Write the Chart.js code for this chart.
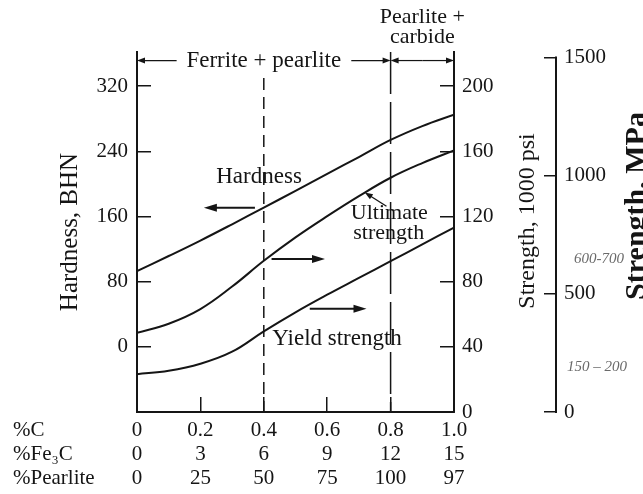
<!DOCTYPE html>
<html>
<head>
<meta charset="utf-8">
<script src="https://cdn.jsdelivr.net/npm/chart.js@4.4.1/dist/chart.umd.min.js"></script>
<style>
  html, body { margin: 0; padding: 0; background: #fff; }
  #wrap { width: 643px; height: 494px; position: relative; }
</style>
</head>
<body>
<div id="wrap"><canvas id="chart"></canvas></div>
<script>
// carbon content along the bottom, every 0.1 %C
var carbon = [0, 0.1, 0.2, 0.3, 0.4, 0.5, 0.6, 0.7, 0.8, 0.9, 1.0];
var hardness = [93, 111.5, 130.5, 150.5, 171, 191.5, 212.5, 233, 254, 271, 285];            // BHN
var ultimate = [48.6, 54.2, 63.2, 77.0, 92.8, 107.2, 120.2, 132.5, 143.8, 152.8, 160.6];   // 1000 psi
var yieldStr = [23.2, 25.3, 29.6, 37.0, 49.5, 61.2, 72.0, 82.3, 92.6, 102.9, 113.2];      // 1000 psi

// the three rows of tick labels under the x axis
var carbonTicks = [0, 0.2, 0.4, 0.6, 0.8, 1.0];
var carbonLabels = ['0', '0.2', '0.4', '0.6', '0.8', '1.0'];
var fe3cLabels = ['0', '3', '6', '9', '12', '15'];
var pearliteLabels = ['0', '25', '50', '75', '100', '97'];
var rowNames = ['%C', '%Fe\u2083C', '%Pearlite'];

var bhnTicks = [0, 80, 160, 240, 320];
var psiTicks = [0, 40, 80, 120, 160, 200];
var mpaTicks = [0, 500, 1000, 1500];

var ink = '#151515';
var serif = "'Liberation Serif', 'Times New Roman', serif";

function pts(ys) {
  return carbon.map(function(c, i) { return { x: c, y: ys[i] }; });
}

function setTicks(list) {
  return function(scale) {
    scale.ticks = list.map(function(v) { return { value: v }; });
  };
}

function plain(v) { return String(v); }

function arrow(ctx, x1, y1, x2, y2, len, half) {
  var a = Math.atan2(y2 - y1, x2 - x1);
  ctx.beginPath();
  ctx.moveTo(x1, y1);
  ctx.lineTo(x2 - Math.cos(a) * len * 0.7, y2 - Math.sin(a) * len * 0.7);
  ctx.stroke();
  ctx.beginPath();
  ctx.moveTo(x2, y2);
  ctx.lineTo(x2 - len * Math.cos(a) + half * Math.sin(a), y2 - len * Math.sin(a) - half * Math.cos(a));
  ctx.lineTo(x2 - len * Math.cos(a) - half * Math.sin(a), y2 - len * Math.sin(a) + half * Math.cos(a));
  ctx.closePath();
  ctx.fill();
}

// phase lines, arrows, labels and the right-hand titles
var notes = {
  id: 'notes',
  afterDraw: function(chart) {
    var ctx = chart.ctx;
    var xs = chart.scales.x, ys = chart.scales.y, ms = chart.scales.mpa;
    var px = function(v) { return xs.getPixelForValue(v); };
    var py = function(v) { return ys.getPixelForValue(v); };
    ctx.save();
    ctx.strokeStyle = ink;
    ctx.fillStyle = ink;

    // dashed boundaries at 0.4 and 0.8 %C
    ctx.lineWidth = 1.5;
    ctx.setLineDash([12, 7]);
    ctx.beginPath();
    ctx.moveTo(px(0.4), py(330));
    ctx.lineTo(px(0.4), py(-80));
    ctx.stroke();
    ctx.setLineDash([42, 8]);
    ctx.beginPath();
    ctx.moveTo(px(0.8), py(ys.max));
    ctx.lineTo(px(0.8), py(-80));
    ctx.stroke();
    ctx.setLineDash([]);

    // phase ranges along the top
    ctx.lineWidth = 1.2;
    var ty = py(351.5);
    arrow(ctx, px(0.125), ty, px(0), ty, 8, 3);
    arrow(ctx, px(0.676), ty, px(0.8), ty, 8, 3);
    arrow(ctx, px(0.9), ty, px(0.8), ty, 8, 3);
    arrow(ctx, px(0.9), ty, px(1.0), ty, 8, 3);
    ctx.textAlign = 'center';
    ctx.textBaseline = 'middle';
    ctx.font = '23px ' + serif;
    ctx.fillText('Ferrite + pearlite', px(0.4), ty);
    ctx.font = '22px ' + serif;
    ctx.fillText('Pearlite +', px(0.9), py(405));
    ctx.fillText('carbide', px(0.9), py(380));

    // curve labels and direction arrows
    ctx.font = '23px ' + serif;
    ctx.fillText('Hardness', px(0.385), py(209));
    ctx.fillText('Yield strength', px(0.631), py(10));
    ctx.font = '22px ' + serif;
    ctx.fillText('Ultimate', px(0.796), py(163.5));
    ctx.fillText('strength', px(0.794), py(140));
    ctx.lineWidth = 2;
    arrow(ctx, px(0.372), py(170.7), px(0.211), py(170.7), 13, 4);
    arrow(ctx, px(0.4245), py(108), px(0.593), py(108), 13, 4);
    arrow(ctx, px(0.545), py(46.7), px(0.724), py(46.7), 13, 4);
    ctx.lineWidth = 1.3;
    arrow(ctx, px(0.787), py(172.6), px(0.7186), py(189.6), 8, 3);

    // row names for the x labels
    ctx.textAlign = 'left';
    ctx.font = '21px ' + serif;
    rowNames.forEach(function(name, i) {
      ctx.fillText(name, 13, xs.top + 18 + i * 24);
    });

    // the MPa axis line, only as far as its labelled range
    ctx.lineWidth = 2;
    ctx.beginPath();
    ctx.moveTo(ms.left, ms.getPixelForValue(0) + 1);
    ctx.lineTo(ms.left, ms.getPixelForValue(1500) - 1);
    ctx.stroke();

    // right hand titles read bottom to top
    ctx.textAlign = 'center';
    ctx.textBaseline = 'alphabetic';
    ctx.save();
    ctx.translate(534, 221);
    ctx.rotate(-Math.PI / 2);
    ctx.font = '24px ' + serif;
    ctx.fillText('Strength, 1000 psi', 0, 0);
    ctx.restore();
    ctx.save();
    ctx.translate(645, 206);
    ctx.rotate(-Math.PI / 2);
    ctx.font = 'bold 30px ' + serif;
    ctx.fillText('Strength, MPa', 0, 0);
    ctx.restore();

    // pencil notes on the MPa scale
    ctx.fillStyle = '#6a6a6a';
    ctx.textAlign = 'left';
    ctx.textBaseline = 'middle';
    ctx.font = 'italic 15px ' + serif;
    ctx.fillText('600-700', ms.left + 18, ms.getPixelForValue(648));
    ctx.fillText('150 \u2013 200', ms.left + 11, ms.getPixelForValue(192));
    ctx.restore();
  }
};

var tickFont = { family: serif, size: 21 };
var psiMax = 221;

new Chart(document.getElementById('chart'), {
  type: 'line',
  data: {
    datasets: [
      { label: 'Hardness', data: pts(hardness), yAxisID: 'y' },
      { label: 'Ultimate strength', data: pts(ultimate), yAxisID: 'y1' },
      { label: 'Yield strength', data: pts(yieldStr), yAxisID: 'y1' }
    ].map(function(d) {
      d.borderColor = ink;
      d.borderWidth = 2;
      d.pointRadius = 0;
      d.fill = false;
      d.tension = 0.4;
      return d;
    })
  },
  options: {
    responsive: true,
    maintainAspectRatio: false,
    animation: false,
    devicePixelRatio: 1,
    layout: { padding: { top: 52, left: 0, right: 0, bottom: 0 } },
    plugins: { legend: { display: false }, tooltip: { enabled: false } },
    scales: {
      x: {
        type: 'linear', position: 'bottom', min: 0, max: 1,
        afterBuildTicks: setTicks(carbonTicks),
        afterFit: function(s) { s.height = 82; },
        grid: { drawOnChartArea: false, tickLength: -15, color: ink, lineWidth: 1.5 },
        border: { color: ink, width: 2 },
        ticks: {
          padding: 21, color: ink,
          font: { family: serif, size: 21, lineHeight: 24 / 21 },
          maxRotation: 0, autoSkip: false,
          callback: function(v, i) { return [carbonLabels[i], fe3cLabels[i], pearliteLabels[i]]; }
        }
      },
      y: {
        position: 'left', min: -80, max: 2 * psiMax - 80,
        afterBuildTicks: setTicks(bhnTicks),
        afterFit: function(s) { s.width = 137; },
        grid: { drawOnChartArea: false, tickLength: -14, color: ink, lineWidth: 1.5 },
        border: { color: ink, width: 2 },
        ticks: { padding: 23, color: ink, font: tickFont, callback: plain },
        title: {
          display: true, text: 'Hardness, BHN', color: ink,
          font: { family: serif, size: 25 }, padding: { top: 55, bottom: 0 }
        }
      },
      y1: {
        position: 'right', weight: 0, min: 0, max: psiMax,
        afterBuildTicks: setTicks(psiTicks),
        afterFit: function(s) { s.width = 102; },
        grid: { drawOnChartArea: false, tickLength: -14, color: ink, lineWidth: 1.5 },
        border: { color: ink, width: 2 },
        ticks: { padding: 22, color: ink, font: tickFont, callback: plain }
      },
      mpa: {
        position: 'right', weight: 1, min: 0, max: psiMax * 6.895,
        afterBuildTicks: setTicks(mpaTicks),
        afterFit: function(s) { s.width = 87; },
        grid: { drawOnChartArea: false, tickLength: -12, color: ink, lineWidth: 1.5 },
        border: { display: false },
        ticks: { padding: 20, color: ink, font: tickFont, callback: plain }
      }
    }
  },
  plugins: [notes]
});
</script>
</body>
</html>
